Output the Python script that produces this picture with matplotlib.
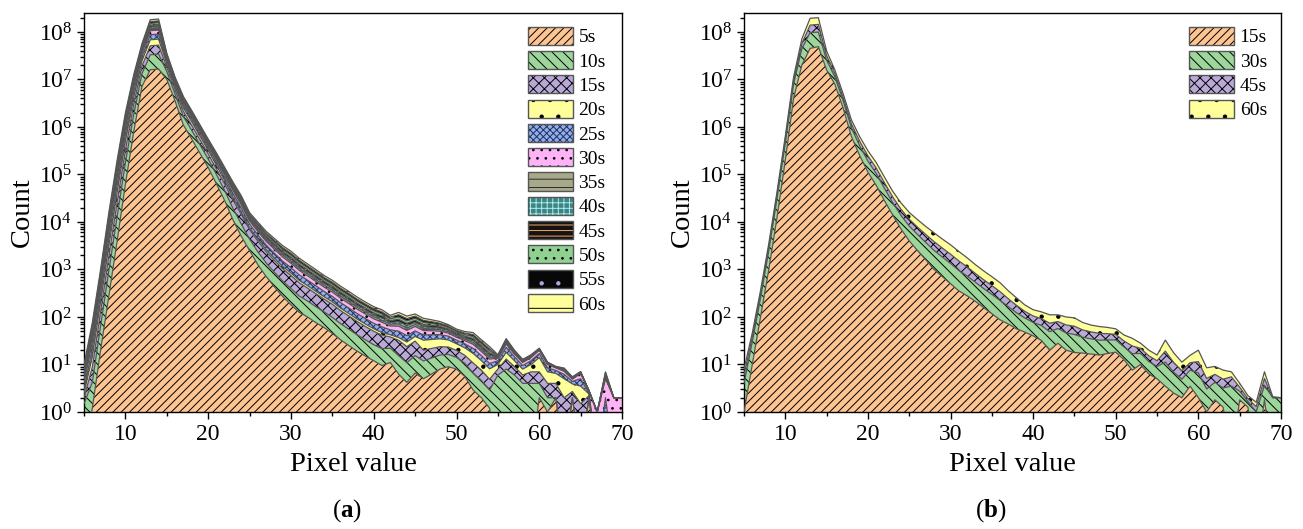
import matplotlib.pyplot as plt
import numpy as np
from matplotlib.legend_handler import HandlerTuple
from matplotlib.patches import Patch
from matplotlib.ticker import LogFormatterMathtext, LogLocator, MultipleLocator, NullFormatter

plt.rcParams["font.family"] = ["Liberation Serif", "DejaVu Serif"]
plt.rcParams["mathtext.fontset"] = "custom"
plt.rcParams["mathtext.rm"] = "Liberation Serif"
plt.rcParams["mathtext.it"] = "Liberation Serif:italic"
plt.rcParams["mathtext.bf"] = "Liberation Serif:bold"
plt.rcParams["hatch.linewidth"] = 0.7

# pixel value bins (x) shared by both panels
pixelValue = np.arange(5, 71)

# ---- panel (a): counts per exposure time, rows of 10 bins (5-14, 15-24, ...)
countA05 = [0, 1.2, 20, 280, 4e3, 6.3e4, 7.9e5, 7.1e6, 1.6e7, 1.65e7,
            1e7, 3.5e6, 1.1e6, 5.6e5, 2.8e5, 1.4e5, 6.3e4, 2.8e4, 1.1e4, 5e3,
            2.5e3, 1.26e3, 710, 430, 270, 180, 125, 100, 76, 60,
            45, 33, 25, 19, 15, 12, 9.5, 11, 6.3, 4.2,
            6.6, 5, 6.3, 8, 9, 8, 5.6, 2.9, 2, 1.2,
            0, 0, 0, 0, 0, 2, 1, 2, 0, 2,
            0, 2, 0, 0, 0, 0]
countA10 = [1.5, 3, 45, 660, 9e3, 1.15e5, 1.02e6, 6.1e6, 1.7e7, 1.77e7,
            4.6e6, 1.4e6, 5.6e5, 2.9e5, 1.43e5, 7.1e4, 3.6e4, 1.74e4, 8.1e3, 4e3,
            1.85e3, 1.08e3, 660, 440, 300, 215, 150, 117, 89, 68,
            53, 39, 30, 23, 18, 14, 12, 11, 9.1, 6.7,
            8.8, 6.9, 7.4, 7.8, 7.3, 6.1, 5, 3.7, 2.6, 1.7,
            6, 8, 6, 4, 4, 2, 1, 0, 0, 0,
            0, 0, 0, 0, 0, 0]
countA15 = [0.5, 4.6, 66, 1000, 1.32e4, 1.53e5, 1.17e6, 6e6, 1.8e7, 1.86e7,
            3.8e6, 1.2e6, 4.7e5, 2.4e5, 1.2e5, 6e4, 3.1e4, 1.77e4, 9.7e3, 5.5e3,
            2.55e3, 1.6e3, 1e3, 690, 470, 350, 250, 190, 145, 110,
            87, 64, 50, 38, 30, 24, 20, 16, 17, 12.8,
            15.6, 8.1, 8.1, 7.9, 7, 5.7, 5, 4.2, 3, 2,
            2, 5, 3, 2, 3, 3, 2, 2, 2, 0.7,
            1.5, 0.2, 0, 0.5, 0, 0]
countA20 = [0.5, 5.7, 78, 1200, 1.57e4, 1.7e5, 1.17e6, 5.5e6, 1.73e7, 1.78e7,
            3e6, 9.1e5, 3.9e5, 2e5, 9.8e4, 4.9e4, 2.55e4, 1e4, 4e3, 1.55e3,
            600, 390, 250, 170, 120, 90, 65, 50, 38, 29,
            23, 17, 13, 10, 8, 6.4, 5.3, 4.2, 4.6, 6,
            8, 12.5, 11.8, 11, 9.6, 7.5, 6.8, 6.3, 4.5, 3.2,
            2, 5, 3, 2, 3, 7, 3, 2.5, 3, 1.2,
            2, 0.2, 0, 0.5, 0, 0]
countA25 = [0.5, 7.4, 100, 1570, 2.01e4, 2.07e5, 1.32e6, 5.7e6, 1.9e7, 1.95e7,
            2.9e6, 8.4e5, 3.7e5, 1.9e5, 9.5e4, 4.8e4, 2.5e4, 1.29e4, 6.7e3, 3.55e3,
            1.53e3, 1e3, 650, 465, 335, 255, 180, 139, 106, 79,
            63, 47, 36, 28, 22, 17, 15, 11.3, 13.2, 10.8,
            11.9, 9.4, 8.8, 7.8, 6.6, 5.2, 4.8, 4.7, 3.3, 2.4,
            2, 5, 2.5, 1.5, 2, 3, 1.5, 1, 1.2, 0.5,
            1.5, 0.1, 0, 1, 0, 0]
countA30 = [1, 8.6, 114, 1790, 2.28e4, 2.25e5, 1.35e6, 5.5e6, 1.87e7, 1.93e7,
            2.6e6, 7.7e5, 3.4e5, 1.7e5, 8.7e4, 4.3e4, 2.3e4, 1.2e4, 6.4e3, 3.4e3,
            1.45e3, 970, 630, 460, 330, 260, 185, 140, 106, 79,
            63, 48, 37, 28, 22, 18, 15.4, 11.1, 13.9, 11.6,
            12.3, 9.8, 8.8, 7.6, 6.3, 5, 4.5, 4.8, 3.4, 2.5,
            1.5, 4, 2, 1.5, 2, 3, 1.5, 1, 1, 0.5,
            1.5, 0.3, 1, 3, 2, 2]
countA35 = [1, 5.1, 66, 1050, 1.32e4, 1.27e5, 7.3e5, 2.8e6, 1e7, 1.04e7,
            1.3e6, 3.9e5, 1.65e5, 8.4e4, 4.2e4, 2.1e4, 1.17e4, 6.2e3, 3.3e3, 1.75e3,
            750, 490, 330, 245, 180, 140, 100, 75, 57, 43,
            34, 26, 20, 15, 12, 9.6, 8.3, 5.9, 7.4, 6.3,
            6.6, 5.2, 4.7, 4.1, 3.2, 2.6, 2.4, 2.6, 1.8, 1.3,
            0.4, 1.2, 0.6, 0.3, 0.3, 0.3, 0.2, 0.1, 0.2, 0.1,
            0.1, 0, 0, 0.3, 0, 0]
countA40 = [1, 5.6, 74, 1180, 1.48e4, 1.4e5, 8.1e5, 3.1e6, 1.05e7, 1.09e7,
            1.3e6, 3.9e5, 1.76e5, 9e4, 4.5e4, 2.2e4, 1.2e4, 6.2e3, 3.3e3, 1.85e3,
            750, 540, 355, 260, 190, 150, 110, 80, 61, 45,
            36, 27, 21, 16, 13, 10, 9, 6.3, 8.5, 7.1,
            7.4, 5.9, 5, 4.3, 3.4, 2.6, 2.6, 2.9, 2, 1.5,
            0.4, 1.3, 0.6, 0.3, 0.3, 0.3, 0.2, 0.1, 0.2, 0.1,
            0.1, 0, 0, 0.4, 0, 0]
countA45 = [1, 6.9, 88, 1410, 1.76e4, 1.64e5, 8.9e5, 3.3e6, 1.2e7, 1.24e7,
            1.4e6, 4.2e5, 1.87e5, 9.5e4, 4.8e4, 2.4e4, 1.3e4, 6.7e3, 3.7e3, 2e3,
            850, 580, 390, 290, 215, 170, 120, 91, 69, 52,
            41, 31, 24, 18, 14, 11.6, 10, 6.9, 9.5, 8.1,
            8.2, 6.6, 5.7, 4.8, 3.7, 2.9, 2.8, 3.2, 2.3, 1.7,
            0.4, 1.3, 0.6, 0.3, 0.3, 0.3, 0.2, 0.1, 0.2, 0.1,
            0.1, 0, 0, 0.3, 0, 0]
countA50 = [1, 8, 102, 1640, 2.04e4, 1.86e5, 9.8e5, 3.6e6, 1.3e7, 1.35e7,
            1.5e6, 4.2e5, 2e5, 1e5, 5e4, 2.5e4, 1.4e4, 7.3e3, 4.1e3, 2.2e3,
            930, 630, 425, 320, 230, 185, 135, 100, 76, 56,
            45, 34, 27, 20, 16, 12.8, 11, 7.6, 10.6, 9.2,
            9, 7.3, 6.3, 5.2, 4, 3.2, 3.1, 3.5, 2.5, 1.9,
            0.5, 1.4, 0.6, 0.3, 0.4, 0.4, 0.2, 0.1, 0.2, 0.1,
            0.1, 0, 0, 0.4, 0, 0]
countA55 = [1, 8.9, 114, 1820, 2.27e4, 2.05e5, 1.09e6, 3.8e6, 1.38e7, 1.42e7,
            1.5e6, 4.2e5, 2e5, 1e5, 5e4, 2.5e4, 1.4e4, 7.3e3, 4.1e3, 2.3e3,
            930, 680, 455, 335, 245, 200, 145, 107, 81, 59,
            48, 37, 29, 22, 17, 13.8, 12.2, 8, 11.5, 10,
            10, 8, 6.7, 5.5, 4.2, 3.2, 3.2, 3.9, 2.8, 2,
            0.4, 1.4, 0.5, 0.3, 0.3, 0.3, 0.2, 0.1, 0.2, 0.1,
            0.1, 0, 0, 0.3, 0, 0]
countA60 = [1, 10.8, 135, 2210, 2.71e4, 2.39e5, 1.21e6, 4.1e6, 1.57e7, 1.62e7,
            1.6e6, 4.6e5, 2.2e5, 1.1e5, 5.6e4, 2.8e4, 1.55e4, 8.1e3, 4.6e3, 2.5e3,
            1050, 730, 500, 380, 280, 225, 160, 120, 91, 68,
            54, 41, 32, 25, 19, 15.5, 13.5, 9, 13.2, 11.6,
            11.2, 9, 7.6, 6.2, 4.7, 3.6, 3.5, 4.3, 3.1, 2.3,
            0.4, 1.4, 0.6, 0.3, 0.4, 0.4, 0.2, 0.1, 0.2, 0.1,
            0.1, 0, 0, 0.3, 0, 0]

# ---- panel (b)
countB15 = [1, 10, 100, 1e3, 1.26e4, 2e5, 4e6, 2e7, 4.5e7, 4.9e7,
            1.58e7, 7.9e6, 2.5e6, 6.3e5, 2.5e5, 1.12e5, 5.9e4, 2.8e4, 1.4e4, 7.1e3,
            4e3, 2.5e3, 1.6e3, 1e3, 710, 500, 355, 280, 214, 158,
            117, 87, 71, 56, 48, 40, 32, 20, 28, 20,
            17.8, 17.4, 16.6, 15.8, 17, 18.2, 12.6, 7.6, 10, 6.3,
            5, 3.5, 2.5, 2, 3.5, 2, 1, 1.8, 1.26, 0,
            1.8, 1.26, 0, 1.8, 0, 0]
countB30 = [3, 20, 150, 1.5e3, 1.9e4, 2.6e5, 4e6, 2.4e7, 5.2e7, 5e7,
            9.6e6, 3.4e6, 1.08e6, 3.3e5, 1.5e5, 8e4, 4.6e4, 2.3e4, 1.15e4, 6.6e3,
            4.2e3, 2.95e3, 2.1e3, 1.52e3, 1.12e3, 835, 600, 450, 325, 240,
            181, 135, 93, 66, 47, 37, 34, 29, 29, 26,
            25, 20, 18, 16.6, 15.8, 14.6, 10.8, 9.3, 7.1, 5.2,
            4.1, 7.7, 4.4, 2.9, 4.1, 4.6, 2.05, 2.4, 1.95, 3.5,
            0.94, 0.4, 1, 1.85, 2, 2]
countB45 = [2, 8, 60, 500, 6e3, 9e4, 1.6e6, 1.3e7, 4.2e7, 4.5e7,
            6.3e6, 2.05e6, 6.5e5, 2e5, 1e5, 5.4e4, 3.2e4, 1.6e4, 8.1e3, 4.9e3,
            3.2e3, 2.35e3, 1.75e3, 1.34e3, 1e3, 765, 560, 405, 287, 212,
            160, 119, 77, 53, 36, 28, 26, 25, 23, 22,
            21, 16, 14, 12.8, 11.7, 10.2, 7.8, 7.6, 4.8, 3.7,
            2.9, 7.9, 4.2, 2.5, 3.3, 4.9, 2.04, 2, 1.7, 2,
            0.58, 0.25, 0.3, 1.42, 0, 0]
countB60 = [2, 8, 50, 500, 6e3, 9e4, 1.6e6, 1.4e7, 5.5e7, 5.5e7,
            7.9e6, 2.45e6, 7.8e5, 2.5e5, 1.25e5, 6.9e4, 4.1e4, 2.1e4, 1.06e4, 6.6e3,
            4.5e3, 3.4e3, 2.6e3, 2.05e3, 1.55e3, 1.21e3, 880, 630, 440, 324,
            248, 184, 114, 76, 48, 37, 36, 37, 31, 32,
            32, 23, 19, 17.7, 15.8, 13.3, 10.5, 11, 6.2, 4.8,
            3.8, 13.5, 6.6, 3.8, 4.7, 8.5, 3.42, 2.9, 2.7, 1.5,
            0.7, 0.3, 0.3, 1.95, 0.1, 0]

labelsA = ["5s", "10s", "15s", "20s", "25s", "30s", "35s", "40s", "45s", "50s", "55s", "60s"]
seriesA = [countA05, countA10, countA15, countA20, countA25, countA30,
           countA35, countA40, countA45, countA50, countA55, countA60]
labelsB = ["15s", "30s", "45s", "60s"]
seriesB = [countB15, countB30, countB45, countB60]

# (face colour, hatch colour, hatch) per legend entry
styleByLabelA = [
    ("#FDC592", "black", "////"),
    ("#9DD69B", "black", "\\\\\\"),
    ("#B9A9D7", "black", "xxx"),
    ("#FFFF9C", "black", "."),
    ("#8FAEEA", "#22305E", "xxxxx"),
    ("#FFB3F7", "black", ".."),
    ("#A8A98B", "#2A2A2A", "--"),
    ("#3F8383", "#A8EEEE", "+++"),
    ("#141414", "#F9A75C", "---"),
    ("#90D192", "black", ".."),
    ("#080808", "#B7A2E2", "."),
    ("#FFFF9C", "black", "-"),
]
styleByLabelB = [styleByLabelA[0], styleByLabelA[1], styleByLabelA[2], styleByLabelA[3]]
edgeGray = "#555555"


def drawStack(ax, seriesList, styles):
    cum = np.zeros(len(pixelValue))
    for values, (face, hatchColor, hatch) in zip(seriesList, styles):
        assert len(values) == len(pixelValue)
        lower = cum
        cum = cum + np.asarray(values, dtype=float)
        ax.fill_between(pixelValue, np.clip(lower, 0.1, None), np.clip(cum, 0.1, None),
                        facecolor=face, edgecolor=hatchColor, hatch=hatch, linewidth=0, zorder=2)
        ax.plot(pixelValue, np.clip(cum, 0.1, None), color=edgeGray, linewidth=0.9, zorder=3)


def styleAxes(ax):
    ax.set_yscale("log")
    ax.set_xlim(5, 70)
    ax.set_ylim(1, 2.5e8)
    ax.xaxis.set_major_locator(MultipleLocator(10))
    ax.xaxis.set_minor_locator(MultipleLocator(5))
    ax.yaxis.set_major_locator(LogLocator(base=10, numticks=20))
    ax.yaxis.set_minor_locator(LogLocator(base=10, subs=np.arange(2, 10), numticks=20))
    ax.yaxis.set_major_formatter(LogFormatterMathtext())
    ax.yaxis.set_minor_formatter(NullFormatter())
    ax.tick_params(which="both", direction="out", top=False, right=False, labelsize=17, width=1.0)
    ax.tick_params(which="major", length=5)
    ax.tick_params(which="minor", length=3)
    for sp in ax.spines.values():
        sp.set_linewidth(1.0)
    ax.set_xlabel("Pixel value", fontsize=20.5, labelpad=5)
    ax.set_ylabel("Count", fontsize=20.5, labelpad=2.5)


def addLegend(ax, labels, styles, anchorX):
    handles = []
    for face, hatchColor, hatch in styles:
        fillPatch = Patch(facecolor=face, edgecolor=hatchColor, hatch=hatch, linewidth=0)
        framePatch = Patch(facecolor="none", edgecolor=edgeGray, linewidth=1.0)
        handles.append((fillPatch, framePatch))
    ax.legend(handles, labels, handler_map={tuple: HandlerTuple(ndivide=1)},
              loc="upper left", bbox_to_anchor=(anchorX, 0.966), frameon=False,
              fontsize=14, handlelength=2.3, handleheight=1.05, labelspacing=0.24,
              handletextpad=0.3, borderpad=0, borderaxespad=0)


fig = plt.figure(figsize=(13.03, 5.29), dpi=100)
axA = fig.add_axes([0.0645, 0.2212, 0.4129, 0.7542])
axB = fig.add_axes([0.571, 0.2212, 0.4121, 0.7542])

drawStack(axA, seriesA, styleByLabelA)
styleAxes(axA)
addLegend(axA, labelsA, styleByLabelA, 0.825)

drawStack(axB, seriesB, styleByLabelB)
styleAxes(axB)
addLegend(axB, labelsB, styleByLabelB, 0.829)

fig.text(0.2665, 0.035, r"($\mathbf{a}$)", ha="center", va="center", fontsize=18)
fig.text(0.760, 0.035, r"($\mathbf{b}$)", ha="center", va="center", fontsize=18)

fig.savefig("out.png", dpi=100)
plt.close(fig)
